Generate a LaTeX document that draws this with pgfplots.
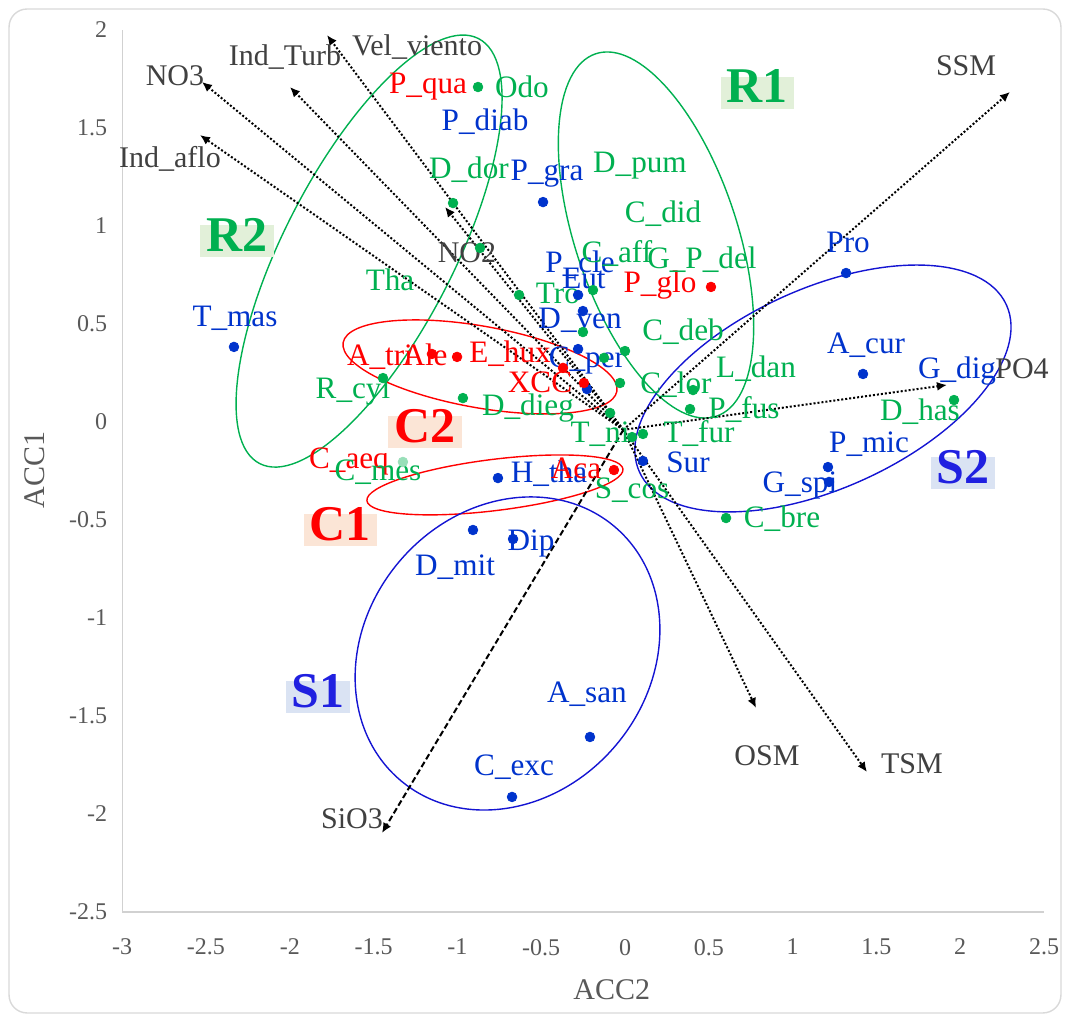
\documentclass[border=0pt]{standalone}
\usepackage{pgfplots}
\pgfplotsset{compat=1.18}
\usepackage{fontspec}
\setmainfont{Liberation Serif}
\usetikzlibrary{arrows.meta}
\definecolor{lblue}{RGB}{0,51,204}
\definecolor{lgreen}{RGB}{0,176,80}
\definecolor{lred}{RGB}{255,0,0}
\definecolor{txtgray}{RGB}{64,64,64}
\definecolor{tickgray}{RGB}{89,89,89}
\definecolor{eblue}{RGB}{20,20,210}
\definecolor{sblue}{RGB}{32,32,224}
\definecolor{bggreen}{RGB}{226,240,217}
\definecolor{bgred}{RGB}{251,229,214}
\definecolor{bgblue}{RGB}{218,227,243}
\newcommand\lbl{\fontsize{15.6}{17}\selectfont}
\newcommand\glbl{\fontsize{15}{17}\selectfont}
\newcommand\tickfont{\fontsize{12}{14}\selectfont}
\newcommand\grpfont{\fontsize{25}{28}\selectfont\bfseries}
\tikzset{pl/.style={font=\lbl, inner sep=0pt, text height=1.45ex, text depth=0.3ex, anchor=center},
  grp/.style={font=\grpfont, inner sep=3pt, text height=2.2ex, text depth=0pt, anchor=center},
  vec/.style={line width=1pt, dash pattern=on 1pt off 1pt, -{Latex[length=5pt,width=4.5pt]}},
  ell/.style={line width=0.7pt}}
\begin{document}
\begin{tikzpicture}
\begin{axis}[
  x=83.8pt, y=98pt,
  xmin=-3, xmax=2.5, ymin=-2.5, ymax=2,
  axis x line*=bottom, axis y line*=left,
  axis line style={draw=black!18, line width=0.6pt, -},
  xtick={-3,-2.5,-2,-1.5,-1,-0.5,0,0.5,1,1.5,2,2.5},
  ytick={-2.5,-2,-1.5,-1,-0.5,0,0.5,1,1.5,2},
  xticklabels={-3,-2.5,-2,-1.5,-1,-0.5,0,0.5,1,1.5,2,2.5},
  yticklabels={-2.5,-2,-1.5,-1,-0.5,0,0.5,1,1.5,2},
  tick style={draw=none}, major tick length=0pt,
  tick label style={font=\tickfont, text=tickgray},
  xticklabel style={yshift=-10pt},
  yticklabel style={xshift=-4pt},
  xlabel={ACC2}, ylabel={ACC1},
  xlabel style={font=\fontsize{15}{17}\selectfont, text=tickgray, at={(axis description cs:0.531,-0.0884)}, anchor=center},
  ylabel style={font=\fontsize{15}{17}\selectfont, text=tickgray, at={(axis description cs:-0.0944,0.501)}, anchor=center},
  clip=false,
]
% frame
\path (axis cs:-3.729,2.153) rectangle (axis cs:2.655,-3.056);
\draw[black!15, line width=0.7pt, rounded corners=9pt] (axis cs:-3.675,2.107) rectangle (axis cs:2.601,-3.015);

% ellipses
\draw[ell, lgreen] (axis cs:0.185,0.954) ellipse [x radius=95.5pt, y radius=40.5pt, rotate=108.4];
\draw[ell, lgreen] (axis cs:-1.527,0.872) ellipse [x radius=119.5pt, y radius=42.5pt, rotate=62.75];
\draw[ell, lred] (axis cs:-0.865,0.281) ellipse [x radius=69.5pt, y radius=20.4pt, rotate=-10.1];
\draw[ell, lred] (axis cs:-0.776,-0.321) ellipse [x radius=64.5pt, y radius=12.8pt, rotate=7.07];
\draw[ell, eblue] (axis cs:-0.701,-1.181) ellipse [x radius=83pt, y radius=71pt, rotate=50];
\draw[ell, eblue] (axis cs:1.181,0.171) ellipse [x radius=100.8pt, y radius=49.9pt, rotate=24.5];

% environmental vectors
\addplot[vec] coordinates {(-0.01,-0.04) (-1.778,1.974)};
\addplot[vec] coordinates {(-0.01,-0.04) (-1.999,1.709)};
\addplot[vec] coordinates {(-0.01,-0.04) (-2.524,1.735)};
\addplot[vec] coordinates {(-0.01,-0.04) (-2.536,1.464)};
\addplot[vec] coordinates {(-0.01,-0.04) (-1.074,1.097)};
\addplot[vec] coordinates {(-0.01,-0.04) (2.297,1.684)};
\addplot[vec] coordinates {(-0.01,-0.04) (1.921,0.189)};
\addplot[vec] coordinates {(-0.01,-0.04) (0.782,-1.459)};
\addplot[vec] coordinates {(-0.01,-0.04) (1.444,-1.786)};
\addplot[line width=1pt, dash pattern=on 3pt off 1.5pt, -{Latex[length=5pt,width=4.5pt]}] coordinates {(-0.01,-0.04) (-1.450,-2.097)};

% species points
\addplot[only marks, mark=*, mark size=2.4pt, lblue] table {
x y
-2.333 0.383
-0.489 1.122
-0.280 0.648
-0.251 0.566
-0.280 0.372
-0.227 0.168
0.107 -0.199
-0.758 -0.286
-0.907 -0.551
-0.668 -0.597
-0.209 -1.607
-0.674 -1.913
1.319 0.760
1.420 0.245
1.211 -0.230
1.217 -0.306
};
\addplot[only marks, mark=*, mark size=2.4pt, lred] table {
x y
-1.152 0.347
-1.002 0.332
-0.370 0.276
-0.245 0.199
0.513 0.689
-0.066 -0.245
};
\addplot[only marks, mark=*, mark size=2.4pt, lgreen] table {
x y
-0.877 1.709
-1.026 1.117
-0.865 0.888
-0.632 0.648
-0.191 0.673
-0.251 0.459
0.000 0.362
-0.125 0.327
-0.030 0.199
0.406 0.163
0.388 0.066
-0.089 0.046
0.107 -0.061
0.042 -0.077
-1.444 0.224
-0.967 0.122
1.963 0.112
0.603 -0.490
};
\addplot[only marks, mark=*, mark size=2.4pt, lgreen!40] table {
x y
-1.325 -0.204
};

% vector labels
\begin{scope}[every node/.style={pl, font=\glbl, text=txtgray}]
\node at (axis cs:-1.241,1.898) {Vel\_viento};
\node at (axis cs:-2.029,1.847) {Ind\_Turb};
\node at (axis cs:-2.685,1.745) {NO3};
\node at (axis cs:-2.715,1.327) {Ind\_aflo};
\node at (axis cs:-0.943,0.842) {NO2};
\node at (axis cs:2.035,1.796) {SSM};
\node at (axis cs:2.369,0.250) {PO4};
\node at (axis cs:0.847,-1.724) {OSM};
\node at (axis cs:1.712,-1.765) {TSM};
\node at (axis cs:-1.629,-2.046) {SiO3};
\end{scope}
% blue labels
\begin{scope}[every node/.style={pl, text=lblue}]
\node at (axis cs:-2.327,0.515) {T\_mas};
\node at (axis cs:-0.835,1.515) {P\_diab};
\node at (axis cs:-0.268,0.791) {P\_cle};
\node at (axis cs:-0.245,0.709) {Eut};
\node at (axis cs:-0.268,0.505) {D\_ven};
\node at (axis cs:-0.227,0.306) {C\_per};
\node at (axis cs:-0.453,-0.281) {H\_tha};
\node at (axis cs:0.376,-0.230) {Sur};
\node at (axis cs:-1.014,-0.755) {D\_mit};
\node at (axis cs:-0.561,-0.628) {Dip};
\node at (axis cs:-0.227,-1.403) {A\_san};
\node at (axis cs:-0.662,-1.776) {C\_exc};
\node at (axis cs:1.331,0.893) {Pro};
\node at (axis cs:1.438,0.378) {A\_cur};
\node at (axis cs:1.981,0.250) {G\_dig};
\node at (axis cs:1.456,-0.128) {P\_mic};
\node at (axis cs:1.044,-0.332) {G\_spi};
\end{scope}
% red labels
\begin{scope}[every node/.style={pl, text=lred}]
\node at (axis cs:-1.175,1.704) {P\_qua};
\node at (axis cs:0.209,0.689) {P\_glo};
\node at (axis cs:-1.462,0.316) {A\_tri};
\node at (axis cs:-1.193,0.316) {Ale};
\node at (axis cs:-0.686,0.332) {E\_hux};
\node at (axis cs:-0.507,0.179) {XCC};
\node at (axis cs:-1.647,-0.209) {C\_aeq};
\node at (axis cs:-0.292,-0.260) {Aca};
\end{scope}
% green labels
\begin{scope}[every node/.style={pl, text=lgreen}]
\node at (axis cs:-0.615,1.684) {Odo};
\node at (axis cs:-0.931,1.270) {D\_dor};
\node at (axis cs:0.089,1.301) {D\_pum};
\node at (axis cs:0.227,1.046) {C\_did};
\node at (axis cs:-0.048,0.842) {C\_aff};
\node at (axis cs:0.459,0.811) {G\_P\_del};
\node at (axis cs:-1.402,0.699) {Tha};
\node at (axis cs:-0.400,0.633) {Tro};
\node at (axis cs:0.346,0.444) {C\_deb};
\node at (axis cs:0.782,0.255) {L\_dan};
\node at (axis cs:0.304,0.173) {C\_lor};
\node at (axis cs:0.710,0.046) {P\_fus};
\node at (axis cs:-0.579,0.061) {D\_dieg};
\node at (axis cs:-1.623,0.148) {R\_cyl};
\node at (axis cs:-0.149,-0.077) {T\_ni};
\node at (axis cs:0.442,-0.077) {T\_fur};
\node at (axis cs:-1.474,-0.270) {C\_mes};
\node at (axis cs:0.042,-0.362) {S\_cos};
\node at (axis cs:1.760,0.036) {D\_has};
\node at (axis cs:0.937,-0.510) {C\_bre};
\end{scope}
\node[pl, text=lblue] at (axis cs:-0.465,1.260) {P\_gra};

% group labels
\node[grp, fill=bggreen, text=lgreen] at (axis cs:0.788,1.679) {R1};
\node[grp, fill=bggreen, text=lgreen] at (axis cs:-2.315,0.923) {R2};
\node[grp, fill=bgred, text=lred] at (axis cs:-1.193,-0.051) {C2};
\node[grp, fill=bgred, text=lred] at (axis cs:-1.700,-0.551) {C1};
\node[grp, fill=bgblue, text=sblue] at (axis cs:-1.832,-1.403) {S1};
\node[grp, fill=bgblue, text=sblue] at (axis cs:2.017,-0.260) {S2};
\end{axis}
\end{tikzpicture}
\end{document}
